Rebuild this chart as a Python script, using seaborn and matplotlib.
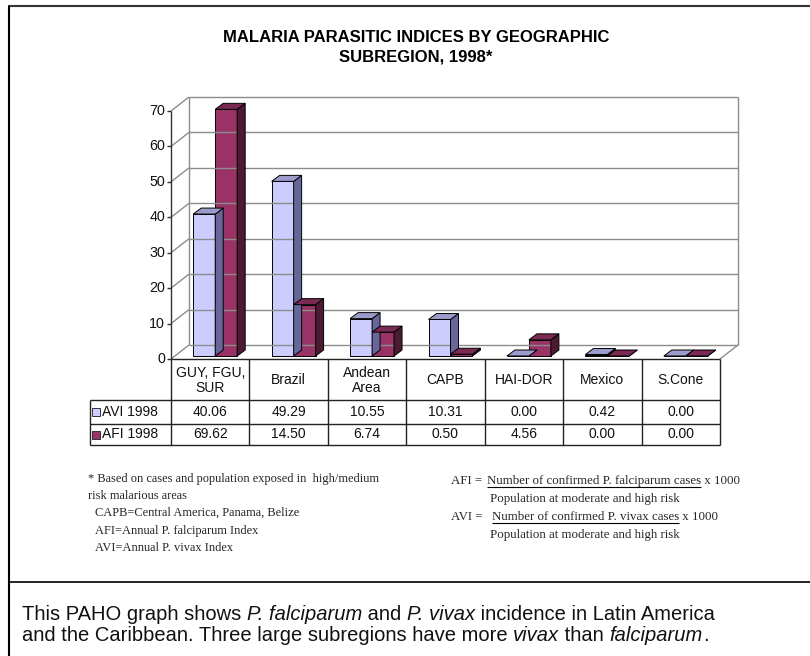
import numpy as np
import pandas as pd
import matplotlib
matplotlib.use("Agg")
import matplotlib.pyplot as plt
import seaborn as sns
from matplotlib.transforms import Affine2D, IdentityTransform
from matplotlib.patches import Polygon, Rectangle
from matplotlib.lines import Line2D

# ---------------- data ----------------
regions = ["GUY, FGU,\nSUR", "Brazil", "Andean\nArea", "CAPB", "HAI-DOR", "Mexico", "S.Cone"]
avi_1998 = [40.06, 49.29, 10.55, 10.31, 0.00, 0.42, 0.00]
afi_1998 = [69.62, 14.50, 6.74, 0.50, 4.56, 0.00, 0.00]
series_labels = ["AVI 1998", "AFI 1998"]
y_ticks = [0, 10, 20, 30, 40, 50, 60, 70]

title_lines = ["MALARIA PARASITIC INDICES BY GEOGRAPHIC", "SUBREGION, 1998*"]
notes_left = ["* Based on cases and population exposed in  high/medium",
              "risk malarious areas",
              "CAPB=Central America, Panama, Belize",
              "AFI=Annual P. falciparum Index",
              "AVI=Annual P. vivax Index"]
formula_afi = ["AFI = ", "Number of confirmed P. falciparum cases", " x 1000"]
formula_avi = ["AVI = ", "Number of confirmed P. vivax cases", " x 1000"]
formula_den = "Population at moderate and high risk"
caption_line1 = [("This PAHO graph shows ", "normal"), ("P. falciparum", "italic"),
                 (" and ", "normal"), ("P. vivax", "italic"),
                 (" incidence in Latin America", "normal")]
caption_line2 = [("and the Caribbean. Three large subregions have more ", "normal"),
                 ("vivax", "italic"), (" than ", "normal"), ("falciparum", "italic"),
                 (".", "normal")]

# ---------------- style ----------------
avi_front, avi_top, avi_side = "#CCCCFF", "#9C9CCC", "#666699"
afi_front, afi_top, afi_side = "#993366", "#7A2952", "#4C1A33"
grid_col = "#8C8C8C"

sns.set_style("white")
plt.rcParams["font.family"] = ["Liberation Sans", "DejaVu Sans"]

W, H = 810, 656
fig = plt.figure(figsize=(W / 100, H / 100), dpi=100)
fig.patch.set_facecolor("white")
pix = Affine2D().scale(1, -1).translate(0, H)   # pixel coords from top-left

# bar plane axes
ax = fig.add_axes([176 / W, (H - 356) / H, 549 / W, (356 - 108) / H])
df = pd.DataFrame({
    "region": regions * 2,
    "value": avi_1998 + afi_1998,
    "series": [series_labels[0]] * len(regions) + [series_labels[1]] * len(regions),
})
sns.barplot(data=df, x="region", y="value", hue="series", order=regions,
            hue_order=series_labels, palette=[avi_front, afi_front], width=0.56,
            saturation=1, edgecolor="black", linewidth=0.7, legend=False,
            errorbar=None, ax=ax)
ax.set_xlim(-0.5, len(regions) - 0.5)
ax.set_ylim(y_ticks[0], y_ticks[-1])
ax.set_axis_off()

BACK = (13, 11)    # display px offset of back wall
FRONT = (-5, -3)   # display px offset of front plane
DEPTH = (8, 6)     # bar depth

def P(x, y, off=(0, 0)):
    X, Y = ax.transData.transform((x, y))
    return X + off[0], Y + off[1]

ident = IdentityTransform()

def dline(p0, p1, color=grid_col, lw=1.0, z=1):
    fig.add_artist(Line2D([p0[0], p1[0]], [p0[1], p1[1]], transform=ident,
                          color=color, lw=lw, zorder=z, solid_capstyle="butt"))

xl, xr = -0.5, len(regions) - 0.5
# back wall gridlines and edges
for t in y_ticks:
    dline(P(xl, t, BACK), P(xr, t, BACK))
    dline(P(xl, t, FRONT), P(xl, t, BACK))   # left wall diagonals
dline(P(xl, y_ticks[0], BACK), P(xl, y_ticks[-1], BACK))
dline(P(xr, y_ticks[0], BACK), P(xr, y_ticks[-1], BACK))
dline(P(xr, 0, FRONT), P(xr, 0, BACK))
# front axis
dline(P(xl, 0, FRONT), P(xl, y_ticks[-1], FRONT), color="#333333")
for t in y_ticks:
    X, Y = P(xl, t, FRONT)
    dline((X - 4, Y), (X, Y), color="#333333")
    fig.text(X - 6, Y, f"{t}", ha="right", va="center", fontsize=10.3,
             transform=ident, color="#111111")

# 3D bars
for p in list(ax.patches):
    x0, w, h = p.get_x(), p.get_width(), p.get_height()
    fc = matplotlib.colors.to_hex(p.get_facecolor()).lower()
    if fc == avi_front.lower():
        top_c, side_c = avi_top, avi_side
    else:
        top_c, side_c = afi_top, afi_side
    X0, Y0 = ax.transData.transform((x0, 0))
    X1, Y1 = ax.transData.transform((x0 + w, h))
    dx, dy = DEPTH
    z = 3 + x0
    p.set_zorder(z)
    p.set_clip_on(False)
    top = Polygon([(X0, Y1), (X1, Y1), (X1 + dx, Y1 + dy), (X0 + dx, Y1 + dy)],
                  closed=True, transform=ident, facecolor=top_c, edgecolor="black",
                  lw=0.7, zorder=z - 0.001)
    side = Polygon([(X1, Y0), (X1 + dx, Y0 + dy), (X1 + dx, Y1 + dy), (X1, Y1)],
                   closed=True, transform=ident, facecolor=side_c, edgecolor="black",
                   lw=0.7, zorder=z - 0.001)
    fig.add_artist(side)
    fig.add_artist(top)

# ---------------- data table ----------------
tab_top = H - P(xl, 0, FRONT)[1]
row_y = [400, 424, 445]   # header bottom, row1 bottom, row2 bottom (px from top)
leg_left = 90
tx = [P(k - 0.5, 0, FRONT)[0] for k in range(len(regions) + 1)]

def pline(x0, y0, x1, y1, color="#222222", lw=1.0):
    fig.add_artist(Line2D([x0, x1], [y0, y1], transform=pix, color=color, lw=lw,
                          solid_capstyle="butt", zorder=5))

pline(tx[0], tab_top, tx[-1], tab_top)
for yb in row_y:
    pline(leg_left, yb, tx[-1], yb)
for xv in tx:
    pline(xv, tab_top, xv, row_y[-1])
pline(leg_left, row_y[0], leg_left, row_y[-1])

for k, name in enumerate(regions):
    cx = (tx[k] + tx[k + 1]) / 2
    fig.text(cx, (tab_top + row_y[0]) / 2 + 1, name, ha="center", va="center",
             fontsize=10, transform=pix, linespacing=1.15, color="#111111")
    fig.text(cx, (row_y[0] + row_y[1]) / 2, f"{avi_1998[k]:.2f}", ha="center",
             va="center", fontsize=10, transform=pix, color="#111111")
    fig.text(cx, (row_y[1] + row_y[2]) / 2, f"{afi_1998[k]:.2f}", ha="center",
             va="center", fontsize=10, transform=pix, color="#111111")

for i, (lab, col) in enumerate(zip(series_labels, [avi_front, afi_front])):
    cy = (row_y[i] + row_y[i + 1]) / 2
    fig.add_artist(Rectangle((92, cy + 4), 8, -8, transform=pix, facecolor=col,
                             edgecolor="#333333", lw=0.7, zorder=6))
    fig.text(102, cy, lab, ha="left", va="center", fontsize=10, transform=pix,
             color="#111111")

# ---------------- title ----------------
fig.text(416, 38, title_lines[0], ha="center", va="center", fontsize=12,
         fontweight="bold", transform=pix, color="black")
fig.text(416, 57, title_lines[1], ha="center", va="center", fontsize=12,
         fontweight="bold", transform=pix, color="black")

# ---------------- footnotes ----------------
serif = ["Liberation Serif", "DejaVu Serif"]
left_pos = [(88, 479), (88, 496), (95, 513), (95, 531), (95, 548)]
for (x, y), s in zip(left_pos, notes_left):
    fig.text(x, y, s, ha="left", va="center", fontsize=8.9, family=serif,
             transform=pix)

renderer = fig.canvas.get_renderer()
RS = 9.3

def formula(parts, x_label, x_num, y):
    fig.text(x_label, y, parts[0], ha="left", va="center", fontsize=RS,
             family=serif, transform=pix)
    t = fig.text(x_num, y, parts[1], ha="left", va="center", fontsize=RS,
                 family=serif, transform=pix)
    bb = t.get_window_extent(renderer)
    pline(bb.x0, y + 6, bb.x1, y + 6, color="black", lw=0.8)
    fig.text(bb.x1, y, parts[2], ha="left", va="center", fontsize=RS,
             family=serif, transform=pix)

formula(formula_afi, 451, 487, 481)
fig.text(490, 499, formula_den, ha="left", va="center", fontsize=RS,
         family=serif, transform=pix)
formula(formula_avi, 451, 492, 517)
fig.text(490, 535, formula_den, ha="left", va="center", fontsize=RS,
         family=serif, transform=pix)

# ---------------- frame + caption ----------------
pline(8, 6, W, 6, color="#333333", lw=1.5)
pline(9, 6, 9, H, color="black", lw=1.5)
pline(9, 582, W, 582, color="black", lw=1.2)

def seg_text(segments, x, y, size=14.5):
    for s, style in segments:
        t = fig.text(x, y, s, ha="left", va="baseline", fontsize=size,
                     style=style, transform=pix, color="#111111")
        x = t.get_window_extent(renderer).x1

seg_text(caption_line1, 22, 620)
seg_text(caption_line2, 22, 641)

fig.savefig("out.png", dpi=100, facecolor="white")
